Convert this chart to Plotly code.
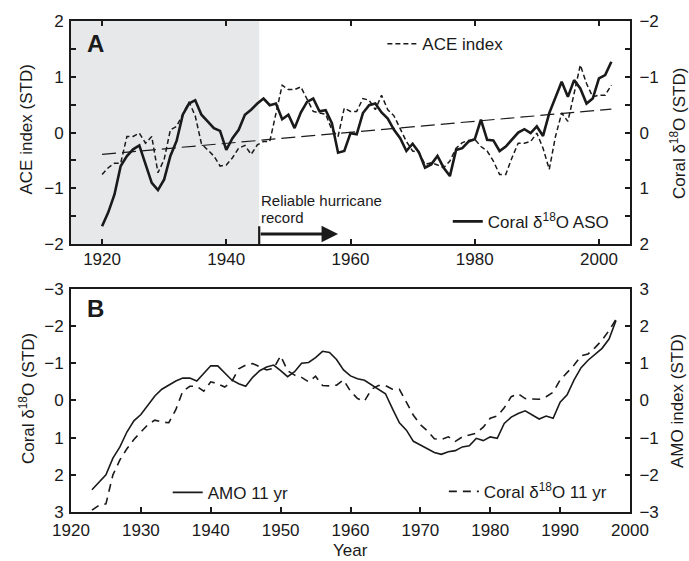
import plotly.graph_objects as go

# ---------------- Panel A data (annual) ----------------
years_a = list(range(1920, 2003))
ace_index = [
    -0.75, -0.63, -0.55, -0.55, -0.07, -0.07, -0.01, -0.19, -0.07, -0.72,
    -0.48, 0.05, 0.11, 0.33, 0.55, 0.30, -0.20, -0.31, -0.42, -0.60,
    -0.58, -0.45, -0.28, -0.23, -0.39, -0.22, -0.16, -0.16, 0.35, 0.85,
    0.77, 0.77, 0.82, 0.61, 0.38, 0.35, 0.33, 0.05, -0.07, 0.44,
    0.38, 0.38, 0.61, 0.58, 0.41, 0.67, 0.41, 0.30, 0.08, -0.16,
    -0.33, -0.36, -0.57, -0.54, -0.58, -0.63, -0.51, -0.28, -0.18, -0.14,
    -0.12, -0.25, -0.33, -0.51, -0.75, -0.75, -0.45, -0.19, -0.19, -0.16,
    -0.01, -0.28, -0.66, -0.07, 0.35, 0.20, 0.70, 1.21, 0.88, 0.64,
    0.67, 0.67, 0.85,
]
coral_aso = [
    1.68, 1.43, 1.11, 0.60, 0.42, 0.30, 0.23, 0.55, 0.90, 1.03,
    0.84, 0.42, 0.15, -0.32, -0.52, -0.58, -0.32, -0.20, -0.08, -0.03,
    0.31, 0.10, -0.05, -0.32, -0.41, -0.52, -0.61, -0.49, -0.52, -0.24,
    -0.32, -0.08, -0.36, -0.55, -0.61, -0.38, -0.40, -0.17, 0.36, 0.33,
    0.01, 0.03, -0.35, -0.49, -0.52, -0.36, -0.25, -0.05, 0.10, 0.33,
    0.20, 0.35, 0.63, 0.57, 0.42, 0.63, 0.78, 0.31, 0.28, 0.16,
    0.12, -0.23, 0.13, 0.14, 0.33, 0.25, 0.12, 0.00, -0.06, 0.01,
    -0.11, 0.06, -0.35, -0.64, -0.91, -0.64, -0.94, -0.79, -0.52, -0.61,
    -0.97, -1.03, -1.27,
]
trend_years = [1920, 2002]
trend_values = [-0.39, 0.42]
record_start = 1945.3
record_arrow_end = 1958.0

# ---------------- Panel B data (11-yr smoothed) ----------------
years_b = list(range(1923, 1999))
amo_11yr = [
    -2.40, -2.20, -2.00, -1.55, -1.25, -0.85, -0.55, -0.38, -0.12, 0.12,
    0.30, 0.42, 0.52, 0.60, 0.60, 0.52, 0.72, 0.93, 0.93, 0.75,
    0.55, 0.45, 0.38, 0.62, 0.80, 0.90, 0.95, 0.80, 0.64, 0.77,
    1.00, 1.02, 1.15, 1.32, 1.29, 1.10, 0.82, 0.66, 0.58, 0.54,
    0.42, 0.30, 0.18, -0.22, -0.60, -0.80, -1.10, -1.20, -1.30, -1.40,
    -1.45, -1.38, -1.35, -1.25, -1.22, -1.02, -1.08, -0.98, -1.02, -0.62,
    -0.45, -0.35, -0.28, -0.38, -0.50, -0.42, -0.48, -0.05, 0.15, 0.55,
    0.88, 1.08, 1.25, 1.40, 1.65, 2.15,
]
coral_11yr = [
    2.95, 2.82, 2.78, 2.00, 1.60, 1.30, 1.05, 0.85, 0.65, 0.53,
    0.58, 0.60, 0.25, -0.25, -0.38, -0.38, -0.25, -0.50, -0.45, -0.36,
    -0.50, -0.85, -0.95, -0.99, -0.90, -0.82, -0.86, -1.20, -0.80, -0.68,
    -0.62, -0.50, -0.65, -0.40, -0.39, -0.41, -0.55, -0.25, -0.05, 0.02,
    -0.30, -0.40, -0.40, -0.30, -0.30, 0.05, 0.40, 0.65, 0.82, 1.03,
    1.05, 0.98, 1.10, 0.98, 0.92, 0.88, 0.72, 0.48, 0.42, 0.20,
    -0.10, -0.18, -0.05, -0.03, -0.03, -0.10, -0.22, -0.55, -0.75, -0.95,
    -1.20, -1.25, -1.42, -1.62, -1.88, -2.18,
]

FONT = "Liberation Sans, Arial, sans-serif"
FS = 17
BLACK = "#1a1a1a"

fig = go.Figure()

fig.add_trace(go.Scatter(x=years_a, y=ace_index, mode="lines", name="ACE index",
                         line=dict(color=BLACK, width=1.5, dash="5px,3px"),
                         xaxis="x", yaxis="y", legend="legend"))
fig.add_trace(go.Scatter(x=trend_years, y=trend_values, mode="lines", showlegend=False,
                         line=dict(color=BLACK, width=1.2, dash="14px,6px"),
                         xaxis="x", yaxis="y"))
fig.add_trace(go.Scatter(x=years_a, y=coral_aso, mode="lines",
                         name="Coral δ<sup>18</sup>O ASO",
                         line=dict(color=BLACK, width=2.6),
                         xaxis="x", yaxis="y2", legend="legend2"))

fig.add_trace(go.Scatter(x=years_b, y=amo_11yr, mode="lines", name="AMO 11 yr",
                         line=dict(color=BLACK, width=1.6),
                         xaxis="x2", yaxis="y4", legend="legend3"))
fig.add_trace(go.Scatter(x=years_b, y=coral_11yr, mode="lines",
                         name="Coral δ<sup>18</sup>O 11 yr",
                         line=dict(color=BLACK, width=1.6, dash="8px,6px"),
                         xaxis="x2", yaxis="y3", legend="legend4"))

axis_common = dict(showline=True, linecolor=BLACK, linewidth=2, ticks="inside",
                   ticklen=5, tickwidth=1.5, tickcolor=BLACK, showgrid=False,
                   zeroline=False, tickfont=dict(size=FS, color=BLACK))

dom_a = [0.5455, 1.0]
dom_b = [0.0, 0.4545]
minor_half = dict(dtick=0.5, ticks="inside", ticklen=5, tickcolor=BLACK)

fig.update_layout(
    width=689, height=561,
    margin=dict(l=71, r=59, t=17, b=49),
    paper_bgcolor="white", plot_bgcolor="white",
    font=dict(family=FONT, size=FS, color=BLACK),
    xaxis=dict(**axis_common, domain=[0, 1], anchor="y", range=[1915, 2005],
               tick0=1920, dtick=20, mirror="ticks", ticklabelstandoff=-2),
    yaxis=dict(**axis_common, domain=dom_a, anchor="x", range=[-2, 2], dtick=1,
               minor=minor_half, ticklabelstandoff=2),
    yaxis2=dict(**axis_common, overlaying="y", anchor="x", side="right",
                range=[2, -2], dtick=1, minor=minor_half, ticklabelstandoff=4),
    xaxis2=dict(**axis_common, domain=[0, 1], anchor="y3", range=[1920, 2000],
                tick0=1920, dtick=10, mirror=True, ticklabelstandoff=2),
    yaxis3=dict(**axis_common, domain=dom_b, anchor="x2", range=[3, -3], dtick=1,
                ticklabelstandoff=2),
    yaxis4=dict(**axis_common, overlaying="y3", anchor="x2", side="right",
                range=[-3, 3], dtick=1, ticklabelstandoff=4),
    legend=dict(x=0.557, y=0.953, xanchor="left", yanchor="middle",
                bgcolor="rgba(0,0,0,0)", font=dict(size=FS), itemwidth=30),
    legend2=dict(x=0.674, y=0.591, xanchor="left", yanchor="middle",
                 bgcolor="rgba(0,0,0,0)", font=dict(size=FS), itemwidth=30),
    legend3=dict(x=0.173, y=0.039, xanchor="left", yanchor="middle",
                 bgcolor="rgba(0,0,0,0)", font=dict(size=FS), itemwidth=30),
    legend4=dict(x=0.667, y=0.041, xanchor="left", yanchor="middle",
                 bgcolor="rgba(0,0,0,0)", font=dict(size=FS), itemwidth=30),
)

# Axis titles
def ytitle(text, x, y):
    fig.add_annotation(x=x, y=y, xref="paper", yref="paper", text=text,
                       textangle=-90, showarrow=False, xanchor="center",
                       yanchor="middle", font=dict(size=FS, color=BLACK))

ytitle("ACE index (STD)", -0.0787, 0.779)
ytitle("Coral δ<sup>18</sup>O (STD)", 1.0859, 0.770)
ytitle("Coral δ<sup>18</sup>O (STD)", -0.0787, 0.230)
ytitle("AMO index (STD)", 1.0841, 0.226)
fig.add_annotation(x=0.5, y=-0.0778, xref="paper", yref="paper", text="Year",
                   showarrow=False, xanchor="center", yanchor="middle",
                   font=dict(size=FS, color=BLACK))

# Shaded pre-reliable period
fig.add_shape(type="rect", xref="x", yref="y domain", x0=1915, x1=record_start,
              y0=0, y1=1, fillcolor="#e7e8ea", line=dict(width=0), layer="below")
# Reliable record marker
fig.add_shape(type="line", xref="x", yref="y", x0=record_start, x1=record_start,
              y0=-2, y1=-1.68, line=dict(color=BLACK, width=2.2))
fig.add_annotation(x=record_arrow_end, y=-1.82, ax=record_start, ay=-1.82,
                   xref="x", yref="y", axref="x", ayref="y", text="",
                   showarrow=True, arrowhead=2, arrowsize=1.1, arrowwidth=3,
                   arrowcolor=BLACK)
fig.add_annotation(x=record_start, y=-1.22, xref="x", yref="y",
                   text="Reliable hurricane", showarrow=False,
                   xanchor="left", yanchor="middle", align="left",
                   font=dict(size=15, color=BLACK))
fig.add_annotation(x=record_start, y=-1.52, xref="x", yref="y",
                   text="record", showarrow=False,
                   xanchor="left", yanchor="middle", align="left",
                   font=dict(size=15, color=BLACK))

# Panel letters
fig.add_annotation(x=0.025, y=0.90, xref="x domain", yref="y domain", text="<b>A</b>",
                   showarrow=False, xanchor="left", yanchor="middle",
                   font=dict(size=24, color=BLACK))
fig.add_annotation(x=0.025, y=0.912, xref="x2 domain", yref="y3 domain", text="<b>B</b>",
                   showarrow=False, xanchor="left", yanchor="middle",
                   font=dict(size=24, color=BLACK))

fig.write_html("out.html", config={"displayModeBar": False},
               post_script="document.body.style.margin='0px';")
